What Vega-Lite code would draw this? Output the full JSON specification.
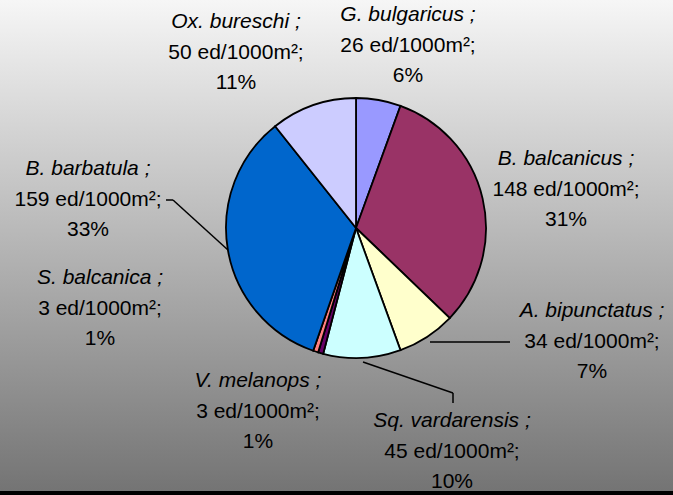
{
  "$schema": "https://vega.github.io/schema/vega-lite/v6.json",
  "width": 673,
  "height": 491,
  "autosize": {"type": "none"},
  "padding": {"left": 0, "top": 0, "right": 0, "bottom": 4},
  "background": "#000000",
  "config": {
    "view": {
      "stroke": null,
      "fill": {"gradient": "linear", "x1": 0, "y1": 0, "x2": 0, "y2": 1,
        "stops": [{"offset": 0, "color": "#f6f6f6"}, {"offset": 1, "color": "#747474"}]}
    },
    "text": {"font": "Liberation Sans", "fontSize": 21, "color": "#000000", "baseline": "middle", "align": "center"}
  },
  "datasets": {
    "fish": [
      {"idx": 1, "species": "G. bulgaricus", "density": 26, "pct": 6},
      {"idx": 2, "species": "B. balcanicus", "density": 148, "pct": 31},
      {"idx": 3, "species": "A. bipunctatus", "density": 34, "pct": 7},
      {"idx": 4, "species": "Sq. vardarensis", "density": 45, "pct": 10},
      {"idx": 5, "species": "V. melanops", "density": 3, "pct": 1},
      {"idx": 6, "species": "S. balcanica", "density": 3, "pct": 1},
      {"idx": 7, "species": "B. barbatula", "density": 159, "pct": 33},
      {"idx": 8, "species": "Ox. bureschi", "density": 50, "pct": 11}
    ],
    "labels": [
      {"species": "G. bulgaricus", "lx": 52, "ly": 182},
      {"species": "B. balcanicus", "lx": 210, "ly": 38},
      {"species": "A. bipunctatus", "lx": 236, "ly": -114},
      {"species": "Sq. vardarensis", "lx": 96, "ly": -224},
      {"species": "V. melanops", "lx": -98, "ly": -184},
      {"species": "S. balcanica", "lx": -256, "ly": -81},
      {"species": "B. barbatula", "lx": -268, "ly": 28},
      {"species": "Ox. bureschi", "lx": -120, "ly": 175}
    ],
    "leaders": [
      {"species": "B. barbatula", "x": -190, "y": 28, "x2": -183, "y2": 28},
      {"species": "B. barbatula", "x": -183, "y": 28, "x2": -128, "y2": -22},
      {"species": "A. bipunctatus", "x": 74, "y": -114, "x2": 154, "y2": -114},
      {"species": "Sq. vardarensis", "x": 7, "y": -134, "x2": 97, "y2": -165},
      {"species": "Sq. vardarensis", "x": 97, "y": -165, "x2": 97, "y2": -175}
    ]
  },
  "layer": [
    {
      "data": {"name": "fish"},
      "mark": {"type": "arc", "outerRadius": 130, "stroke": "#000000", "strokeWidth": 1.8},
      "encoding": {
        "theta": {"field": "density", "type": "quantitative", "stack": true},
        "order": {"field": "idx", "type": "quantitative"},
        "color": {
          "field": "species", "type": "nominal", "legend": null,
          "scale": {
            "domain": ["G. bulgaricus", "B. balcanicus", "A. bipunctatus", "Sq. vardarensis", "V. melanops", "S. balcanica", "B. barbatula", "Ox. bureschi"],
            "range": ["#9999FF", "#993366", "#FFFFCC", "#CCFFFF", "#660066", "#FF8080", "#0066CC", "#CCCCFF"]
          }
        },
        "x": {"datum": 0, "type": "quantitative", "scale": {"domain": [-356, 317], "nice": false, "zero": false}, "axis": null},
        "y": {"datum": 0, "type": "quantitative", "scale": {"domain": [-263, 228], "nice": false, "zero": false}, "axis": null}
      }
    },
    {
      "data": {"name": "leaders"},
      "mark": {"type": "rule", "color": "#000000", "strokeWidth": 1.5},
      "encoding": {
        "x": {"field": "x", "type": "quantitative"},
        "y": {"field": "y", "type": "quantitative"},
        "x2": {"field": "x2"},
        "y2": {"field": "y2"}
      }
    },
    {
      "data": {"name": "labels"},
      "transform": [
        {"lookup": "species", "from": {"data": {"name": "fish"}, "key": "species", "fields": ["density", "pct"]}},
        {"calculate": "datum.species + ' ;'", "as": "line1"},
        {"calculate": "datum.density + ' ed/1000m\u00b2;'", "as": "line2"},
        {"calculate": "datum.pct + '%'", "as": "line3"}
      ],
      "encoding": {
        "x": {"field": "lx", "type": "quantitative"},
        "y": {"field": "ly", "type": "quantitative"}
      },
      "layer": [
        {"mark": {"type": "text", "fontStyle": "italic", "dy": -31}, "encoding": {"text": {"field": "line1"}}},
        {"mark": {"type": "text"}, "encoding": {"text": {"field": "line2"}}},
        {"mark": {"type": "text", "dy": 30}, "encoding": {"text": {"field": "line3"}}}
      ]
    }
  ]
}
